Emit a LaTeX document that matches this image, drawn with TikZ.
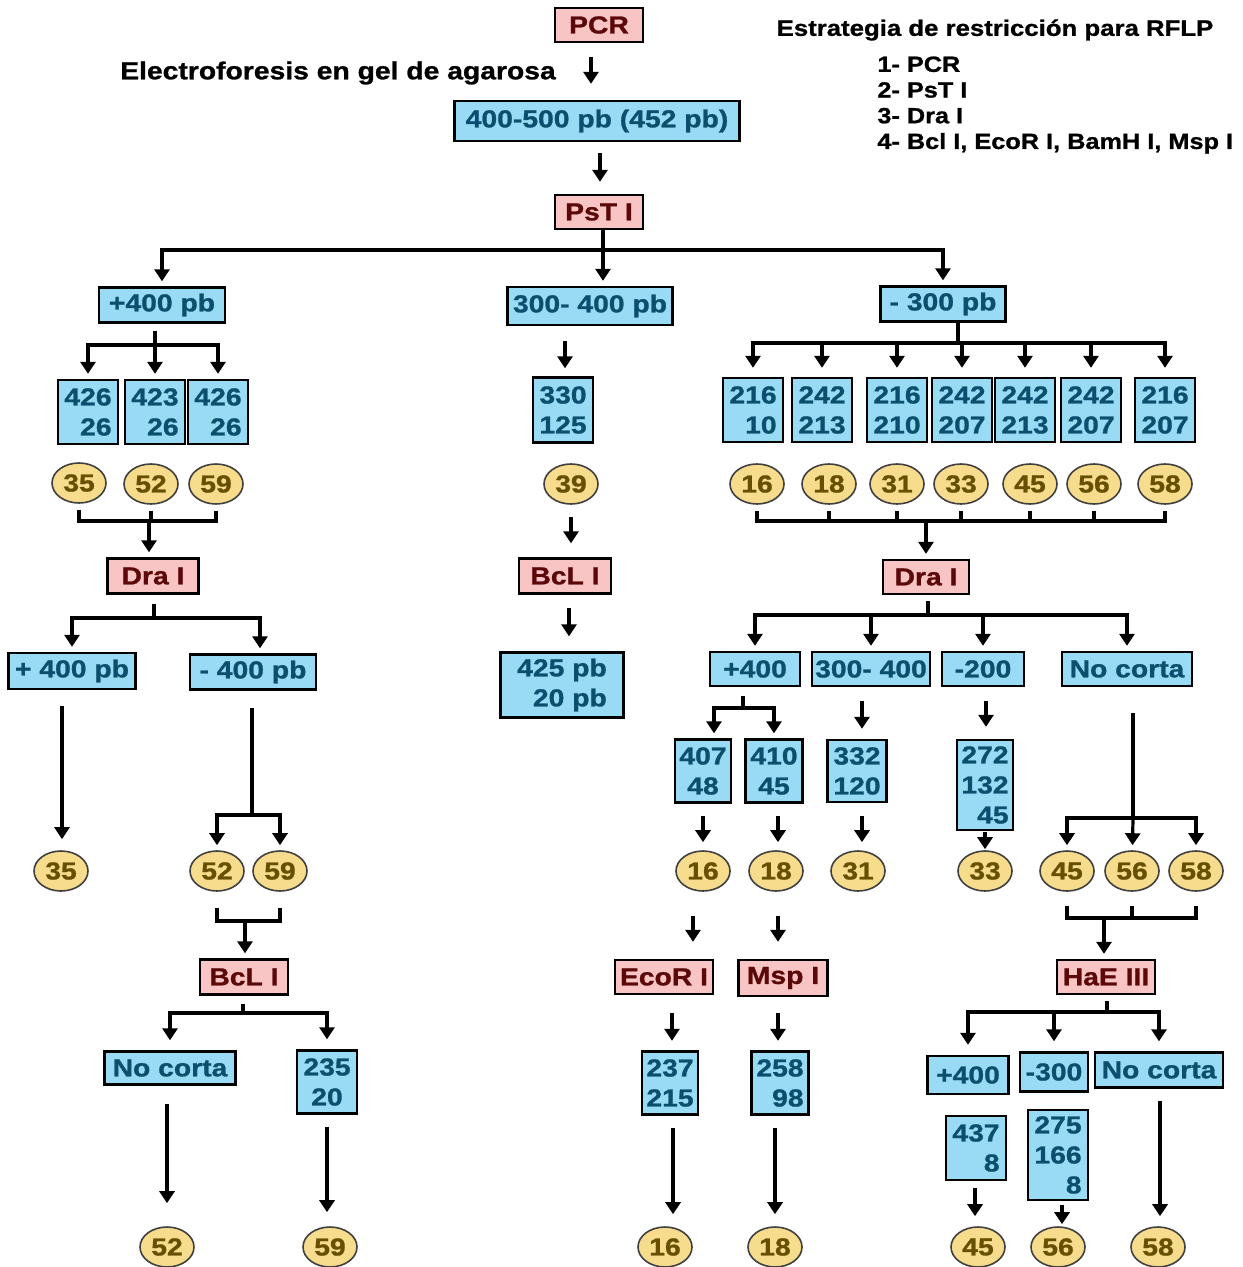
\documentclass[tikz,border=0pt]{standalone}
\usepackage{fontspec}
\setmainfont{Liberation Sans}[FakeStretch=1.15, BoldFeatures={FakeBold=1}]
\usetikzlibrary{shapes.geometric, arrows.meta}

\definecolor{enzfill}{HTML}{F8C4C4}
\definecolor{enztext}{HTML}{5C0808}
\definecolor{fragfill}{HTML}{99DBF5}
\definecolor{fragtext}{HTML}{0B4F6E}
\definecolor{bandfill}{HTML}{F6DC8C}
\definecolor{bandtext}{HTML}{665000}

\newcommand{\boxfont}{\fontsize{12.3}{15}\selectfont\bfseries}
\newcommand{\titlefont}{\fontsize{11.2}{13}\selectfont\bfseries}
\newcommand{\listfont}{\fontsize{11}{12.85}\selectfont\bfseries}

\tikzset{
  sz/.style 2 args={minimum width=#1pt, minimum height=#2pt},
  enz/.style={draw, line width=1.2pt, fill=enzfill, text=enztext, inner sep=0pt, font=\boxfont},
  frag/.style={draw, line width=1.2pt, fill=fragfill, text=fragtext, inner sep=0pt, font=\boxfont, align=center},
  band/.style={ellipse, draw=black!75, line width=0.8pt, fill=bandfill, text=bandtext, inner sep=0pt,
    minimum width=27pt, minimum height=20pt, font=\boxfont},
  link/.style={line width=1.6pt},
  arr/.style={link, -{Triangle[width=7.5pt,length=6pt]}},
  fork/.style={arr, shorten >=2.5pt},
  gap/.style 2 args={shorten <=#1pt, shorten >=#2pt},
}

\begin{document}
\begin{tikzpicture}[x=0.5pt, y=-0.5pt]
\useasboundingbox (0,0) rectangle (1242,1267);

% cabecera
\node[enz, sz={44}{17}] (pcr) at (599,25) {PCR};
\node[font=\boxfont] (gelt) at (338,73) {Electroforesis en gel de agarosa};
\node[frag, sz={142.5}{20}] (gel) at (597,121) {400-500 pb (452 pb)};
\node[enz, sz={44}{17}] (pst) at (599,212) {PsT I};
\node[font=\titlefont] (tit) at (995,30) {Estrategia de restricción para RFLP};
\node[font=\listfont, align=left, anchor=west, inner sep=0pt] (lst) at (877,105)
  {1- PCR\\2- PsT I\\3- Dra I\\4- Bcl I, EcoR I, BamH I, Msp I};
\draw[arr, gap={7}{8}] (pcr.south -| 591,0) -- (gel.north -| 591,0);
\draw[arr, gap={5.5}{6}] (gel.south -| 600,0) -- (pst.north -| 600,0);

% PsT I
\node[frag, sz={63}{17.5}] (p400) at (162,305) {+400 pb};
\node[frag, sz={82.5}{19}] (m400) at (590,306) {300- 400 pb};
\node[frag, sz={62.5}{17.5}] (m300) at (943,304) {- 300 pb};
\coordinate (k1) at (603,250);
\draw[link] (pst.south -| k1) -- (k1);
\draw[fork] (k1) -| (p400);
\draw[fork] (k1) -- (k1 |- m400.north);
\draw[fork] (k1) -| (m300);

% rama +400 pb
\coordinate (k2) at (155,345);
\draw[link, gap={3.5}{0}] (p400.south -| k2) -- (k2);
\node[frag, align=right, sz={30}{32}] (a1) at (88,412) {426\\26};
\node[frag, align=right, sz={30}{32}] (a2) at (155,412) {423\\26};
\node[frag, align=right, sz={30}{32}] (a3) at (218,412) {426\\26};
\draw[fork] (k2) -| (a1);
\draw[fork] (k2) -- (a2);
\draw[fork] (k2) -| (a3);
\node[band] (e35) at (79,483) {35};
\node[band] (e52) at (151,484) {52};
\node[band] (e59) at (216,484) {59};
\coordinate (k3) at (149,521);
\draw[link, gap={3}{0}] (e35.south) |- (k3);
\draw[link, gap={3}{0}] (e52.south) -- (e52.south |- k3);
\draw[link, gap={3}{0}] (e59.south) |- (k3);
\node[enz, sz={45.5}{17.5}] (dral) at (153,576) {Dra I};
\draw[fork] (k3) -- (k3 |- dral.north);
\coordinate (k4) at (154,618);
\draw[link, gap={4.5}{0}] (dral.south -| k4) -- (k4);
\node[frag, sz={63.5}{18}] (pl400) at (72,671) {+ 400 pb};
\node[frag, sz={63}{17.5}] (ml400) at (253,672) {- 400 pb};
\draw[fork] (k4) -| (pl400);
\draw[fork] (k4) -| ([xshift=3.5pt]ml400.north);
\node[band] (l35) at (61,871) {35};
\draw[arr, gap={8}{5.5}] (pl400.south -| 62,0) -- (l35.north -| 62,0);
\coordinate (k5) at (252,815);
\draw[link, gap={8.5}{0}] (ml400.south -| k5) -- (k5);
\node[band] (l52) at (217,871) {52};
\node[band] (l59) at (280,871) {59};
\draw[fork] (k5) -| (l52);
\draw[fork] (k5) -| (l59);
\coordinate (k6) at (245,921);
\draw[link, gap={8}{0}] (l52.south) |- (k6);
\draw[link, gap={8}{0}] (l59.south) |- (k6);
\node[enz, sz={44}{17.5}] (bcll) at (244,977) {BcL I};
\draw[fork] (k6) -- (k6 |- bcll.north);
\coordinate (k7) at (243,1013);
\draw[link, gap={4}{0}] (bcll.south -| k7) -- (k7);
\node[frag, sz={65.5}{16.5}] (nc1) at (170,1068) {No corta};
\node[frag, sz={30}{31.5}] (f235) at (327,1082) {235\\20};
\draw[fork, shorten >=5pt] (k7) -| (nc1);
\draw[fork, shorten >=5pt] (k7) -| (f235);
\node[band] (b52) at (167,1247) {52};
\node[band] (b59) at (330,1247) {59};
\draw[arr, gap={9}{11.5}] (nc1.south -| 167,0) -- (b52.north -| 167,0);
\draw[arr, gap={6}{7}] (f235.south -| 327,0) -- (b59.north -| 327,0);

% rama 300-400 pb
\node[frag, sz={30}{32.5}] (c330) at (563,410) {330\\125};
\draw[arr, gap={7.5}{4}] (m400.south -| 565,0) -- (c330.north -| 565,0);
\node[band] (c39) at (571,484) {39};
\node[enz, sz={46}{17.5}] (bclm) at (565,576) {BcL I};
\draw[arr, gap={6}{7}] (c39.south -| 571,0) -- (bclm.north -| 571,0);
\node[frag, align=right, sz={61.5}{32.5}] (c425) at (562,685) {425 pb\\20 pb};
\draw[arr, gap={6.5}{7.5}] (bclm.south -| 569,0) -- (c425.north -| 569,0);

% rama -300 pb
\coordinate (k8) at (958,343);
\draw[link] (m300.south -| k8) -- (k8);
\node[frag, align=right, sz={30}{32}] (r1) at (753,410) {216\\10};
\node[frag, align=right, sz={30}{32}] (r2) at (822,410) {242\\213};
\node[frag, align=right, sz={30}{32}] (r3) at (897,410) {216\\210};
\node[frag, align=right, sz={30}{32}] (r4) at (962,410) {242\\207};
\node[frag, align=right, sz={30}{32}] (r5) at (1025,410) {242\\213};
\node[frag, align=right, sz={30}{32}] (r6) at (1091,410) {242\\207};
\node[frag, align=right, sz={30}{32}] (r7) at (1165,410) {216\\207};
\draw[fork, shorten >=4.5pt] (k8) -| (r1);
\draw[fork, shorten >=4.5pt] (k8) -| (r2);
\draw[fork, shorten >=4.5pt] (k8) -| (r3);
\draw[fork, shorten >=4.5pt] (k8) -| (r4);
\draw[fork, shorten >=4.5pt] (k8) -| (r5);
\draw[fork, shorten >=4.5pt] (k8) -| (r6);
\draw[fork, shorten >=4.5pt] (k8) -| (r7);
\node[band] (s16) at (757,484) {16};
\node[band] (s18) at (829,484) {18};
\node[band] (s31) at (897,484) {31};
\node[band] (s33) at (961,484) {33};
\node[band] (s45) at (1030,484) {45};
\node[band] (s56) at (1094,484) {56};
\node[band] (s58) at (1165,484) {58};
\coordinate (k9) at (926,521);
\draw[link, gap={3}{0}] (s16.south) |- (k9);
\draw[link, gap={3}{0}] (s18.south) |- (k9);
\draw[link, gap={3}{0}] (s31.south) |- (k9);
\draw[link, gap={3}{0}] (s33.south) |- (k9);
\draw[link, gap={3}{0}] (s45.south) |- (k9);
\draw[link, gap={3}{0}] (s56.south) |- (k9);
\draw[link, gap={3}{0}] (s58.south) |- (k9);
\node[enz, sz={43}{17}] (drar) at (926,577) {Dra I};
\draw[fork] (k9) -- (drar);
\coordinate (k10) at (928,615);
\draw[link, gap={3}{0}] (drar.south -| k10) -- (k10);
\node[frag, sz={45}{17}] (q400) at (755,669) {+400};
\node[frag, sz={59}{17}] (q34) at (871,669) {300- 400};
\node[frag, sz={41}{17}] (q200) at (983,669) {-200};
\node[frag, sz={65}{17}] (qnc) at (1127,669) {No corta};
\draw[fork] (k10) -| (q400);
\draw[fork] (k10) -| (q34);
\draw[fork] (k10) -| (q200);
\draw[fork] (k10) -| (qnc);

% +400 / 300-400 / -200
\coordinate (k11) at (743,708);
\draw[link, gap={4.5}{0}] (q400.south -| k11) -- (k11);
\node[frag, sz={28}{31.5}] (u407) at (703,771) {407\\48};
\node[frag, sz={28.5}{31.5}] (u410) at (774,771) {410\\45};
\draw[fork] (k11) -| ([xshift=5.5pt]u407.north);
\draw[fork] (k11) -| (u410);
\node[frag, sz={29.5}{31}] (u332) at (857,771) {332\\120};
\draw[arr, gap={7}{5}] (q34.south -| 862,0) -- (u332.north -| 862,0);
\node[frag, align=right, sz={28}{45}] (u272) at (985,785) {272\\132\\45};
\draw[arr, gap={7}{6}] (q200.south -| 986,0) -- (u272.north -| 986,0);
\node[band] (t16) at (703,871) {16};
\node[band] (t18) at (776,871) {18};
\node[band] (t31) at (858,871) {31};
\node[band] (t33) at (985,871) {33};
\draw[arr, gap={6}{4}] (u407.south -| 703,0) -- (t16.north -| 703,0);
\draw[arr, gap={6}{4}] (u410.south -| 778,0) -- (t18.north -| 778,0);
\draw[arr, gap={6.5}{4}] (u332.south -| 862,0) -- (t31.north -| 862,0);
\draw[arr, gap={0.5}{0.5}] (u272.south -| 985,0) -- (t33.north -| 985,0);

% No corta
\coordinate (k12) at (1133,818);
\draw[link, gap={13}{0}] (qnc.south -| k12) -- (k12);
\node[band] (t45) at (1067,871) {45};
\node[band] (t56) at (1132,871) {56};
\node[band] (t58) at (1196,871) {58};
\draw[fork] (k12) -| (t45);
\draw[fork] (k12) -- (t56);
\draw[fork] (k12) -| (t58);
\coordinate (k13) at (1104,918);
\draw[link, gap={7}{0}] (t45.south) |- (k13);
\draw[link, gap={7}{0}] (t56.south) |- (k13);
\draw[link, gap={7}{0}] (t58.south) |- (k13);
\node[enz, sz={49}{17}] (hae) at (1106,977) {HaE III};
\draw[fork] (k13) -- (k13 |- hae.north);
\coordinate (k14) at (1107,1012);
\draw[link, gap={3}{0}] (hae.south -| k14) -- (k14);
\node[frag, sz={40.5}{19}] (h400) at (968,1075) {+400};
\node[frag, sz={34}{19.5}] (h300) at (1054,1072) {-300};
\node[frag, sz={64}{17.5}] (hnc) at (1159,1070) {No corta};
\draw[fork, shorten >=5pt] (k14) -| (h400);
\draw[fork, shorten >=5pt] (k14) -| (h300);
\draw[fork, shorten >=5pt] (k14) -| (hnc);
\node[frag, align=right, sz={30}{32}] (h437) at (976,1148) {437\\8};
\node[frag, align=right, sz={30}{45}] (h275) at (1058,1155) {275\\166\\8};
\node[band] (z45) at (978,1247) {45};
\node[band] (z56) at (1058,1247) {56};
\node[band] (z58) at (1158,1247) {58};
\draw[arr, gap={3.5}{5}] (h437.south -| 975,0) -- (z45.north -| 975,0);
\draw[arr, gap={2}{1}] (h275.south -| 1062,0) -- (z56.north -| 1062,0);
\draw[arr, gap={6}{5}] (hnc.south -| 1160,0) -- (z58.north -| 1160,0);

% EcoR I / Msp I
\node[enz, sz={49}{17}] (ecor) at (664,977) {EcoR I};
\node[enz, sz={44.5}{18}] (msp) at (783,978) {Msp I};
\draw[arr, gap={12}{8.5}] (t16.south -| 693,0) -- (ecor.north -| 693,0);
\draw[arr, gap={12}{8.5}] (t18.south -| 778,0) -- (msp.north -| 778,0);
\node[frag, sz={28}{31.5}] (v237) at (670,1083) {237\\215};
\node[frag, align=right, sz={28.5}{31.5}] (v258) at (780,1083) {258\\98};
\draw[arr, gap={9}{4.75}] (ecor.south -| 672,0) -- (v237.north -| 672,0);
\draw[arr, gap={8}{4.75}] (msp.south -| 778,0) -- (v258.north -| 778,0);
\node[band] (w16) at (665,1247) {16};
\node[band] (w18) at (775,1247) {18};
\draw[arr, gap={6}{6}] (v237.south -| 673,0) -- (w16.north -| 673,0);
\draw[arr, gap={6}{6}] (v258.south -| 775,0) -- (w18.north -| 775,0);
\end{tikzpicture}
\end{document}
